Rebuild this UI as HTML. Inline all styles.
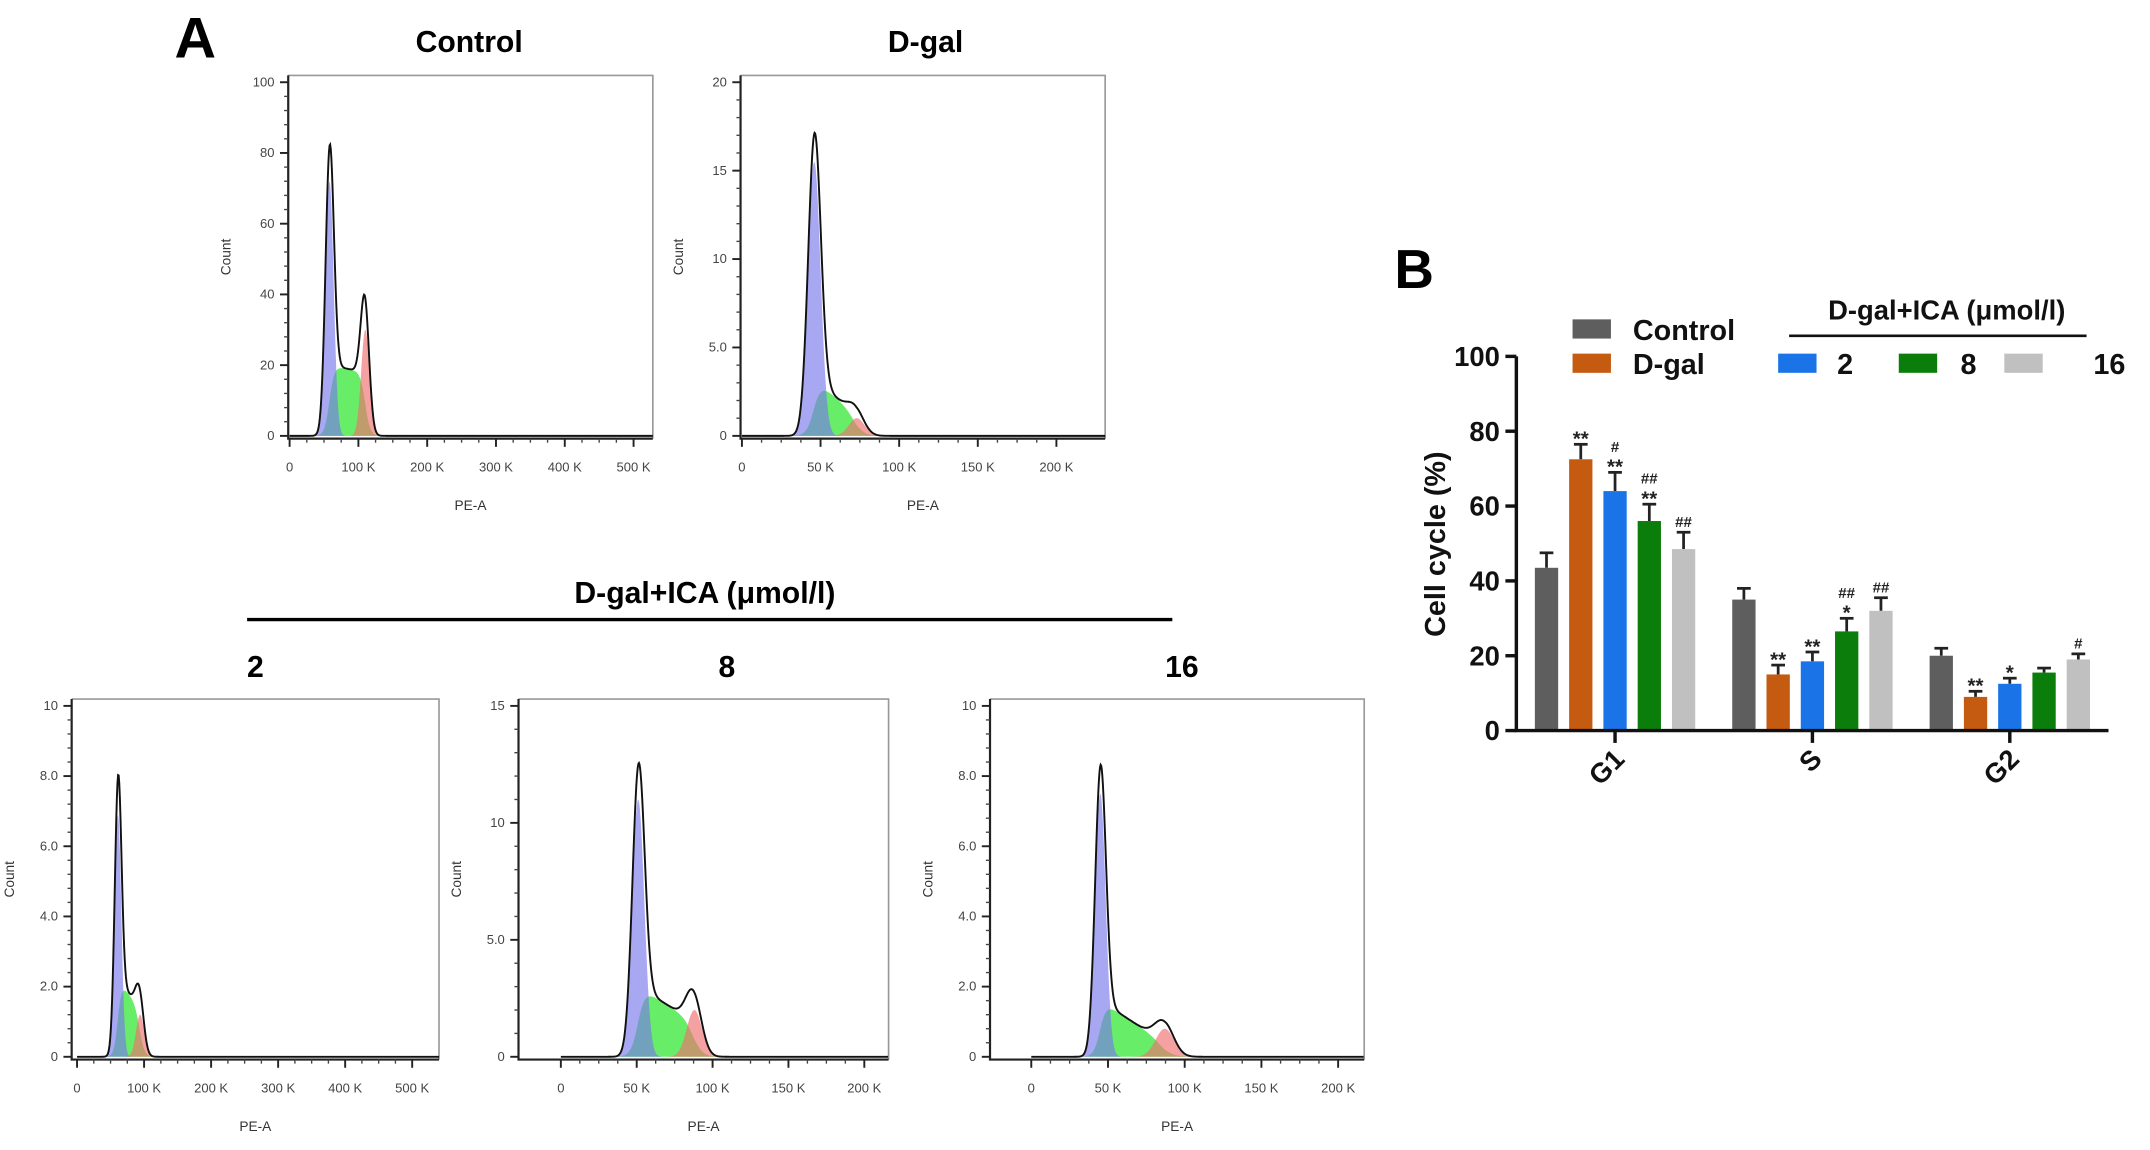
<!DOCTYPE html>
<html><head><meta charset="utf-8"><style>
html,body{margin:0;padding:0;background:#fff}
svg{display:block}
text{font-family:"Liberation Sans",Arial,sans-serif}
</style></head><body>
<svg id="fig" width="2150" height="1150" viewBox="0 0 1568 839" xmlns="http://www.w3.org/2000/svg">
<text x="127" y="42" font-size="42" font-weight="bold">A</text>
<text x="1017" y="210" font-size="40" font-weight="bold">B</text>
<text x="342" y="38" font-size="22" font-weight="bold" text-anchor="middle">Control</text>
<text x="675" y="38" font-size="22" font-weight="bold" text-anchor="middle">D-gal</text>
<text x="514" y="440" font-size="22" font-weight="bold" text-anchor="middle">D-gal+ICA (μmol/l)</text>
<line x1="180" y1="452" x2="855" y2="452" stroke="#000" stroke-width="2.5"/>
<text x="186" y="494" font-size="22" font-weight="bold" text-anchor="middle">2</text>
<text x="530" y="494" font-size="22" font-weight="bold" text-anchor="middle">8</text>
<text x="862" y="494" font-size="22" font-weight="bold" text-anchor="middle">16</text>
<g id="hists"></g>
<g id="bars"></g>
</svg>
<script>
// ---------- Histogram data ----------
const histNames = ['control','dgal','ica2','ica8','ica16'];
const histXMin = [0, 0, -6, -27, -26];
const histXMax = [528, 231, 540, 216, 217];
const histYMax = [100, 20, 10, 15, 10];
const histYTicks = [[0,20,40,60,80,100],[0,5,10,15,20],[0,2,4,6,8,10],[0,5,10,15],[0,2,4,6,8,10]];
const histYTickLabels = [['0','20','40','60','80','100'],['0','5.0','10','15','20'],['0','2.0','4.0','6.0','8.0','10'],['0','5.0','10','15'],['0','2.0','4.0','6.0','8.0','10']];
const histXTicks = [[0,100,200,300,400,500],[0,50,100,150,200],[0,100,200,300,400,500],[0,50,100,150,200],[0,50,100,150,200]];
const histXTickLabels = [['0','100 K','200 K','300 K','400 K','500 K'],['0','50 K','100 K','150 K','200 K'],['0','100 K','200 K','300 K','400 K','500 K'],['0','50 K','100 K','150 K','200 K'],['0','50 K','100 K','150 K','200 K']];
// G1 peak: mean (K), height, sd
const g1Mean = [58, 46, 61, 51, 45];
const g1Height = [72, 15.5, 6.9, 11, 7.5];
const g1Sd = [6, 4, 5, 4, 3.5];
// S phase plateau level (start, end)
const sStart = [20, 3.2, 2.2, 3.0, 1.6];
const sEnd = [18, 1.2, 1.4, 1.5, 0.4];
// G2 peak
const g2Mean = [110, 73, 94, 88, 87];
const g2Height = [30, 1.0, 1.2, 2.0, 0.8];
const g2Sd = [6, 5, 6, 5, 6];
// frame rectangles (layout)
const frames = [[210,55,476,320],[540,55,806,320],[52,510,320,773],[378,510,648,773],[722,510,995,773]];

function gauss(x,m,h,s){return h*Math.exp(-0.5*((x-m)/s)**2);}
function sig(x){return 1/(1+Math.exp(-x));}
const NS='http://www.w3.org/2000/svg';
function mk(tag,attrs,parent){const e=document.createElementNS(NS,tag);for(const k in attrs)e.setAttribute(k,attrs[k]);parent.appendChild(e);return e;}
const hg=document.getElementById('hists');
histNames.forEach((nm,i)=>{
  const [L,T,R,B]=frames[i];
  const x0=L+1, x1=R;
  const xmin=histXMin[i], xmax=histXMax[i];
  const sx=v=>x0+((v-xmin)/(xmax-xmin))*(x1-x0);
  const sy=v=>B-2-(v/histYMax[i])*(B-2-T-5);
  const g=mk('g',{},hg);
  
  
  const fr=mk('path',{d:`M${L},${T} H${R} V${B}`,fill:'none',stroke:'#999','stroke-width':1.2},g);
  
  
  const ax=mk('path',{d:`M${L},${T} V${B} H${R}`,fill:'none',stroke:'#222','stroke-width':1.6},g);
  
  
  const comp={g1:[],s:[],g2:[],tot:[]};
  const m1=g1Mean[i], m2=g2Mean[i];
  const st=(xmax-Math.max(0,xmin))/600;
  for(let v=Math.max(0,xmin); v<=xmax; v+=st){
    const a=gauss(v,m1,g1Height[i],g1Sd[i]);
    const lvl=sStart[i]+(sEnd[i]-sStart[i])*Math.min(1,Math.max(0,(v-m1)/(m2-m1)));
    const s=lvl*sig((v-m1)/(g1Sd[i]*0.6))*sig((m2-v)/(g2Sd[i]*0.6));
    const b=gauss(v,m2,g2Height[i],g2Sd[i]);
    comp.g1.push([v,a]);comp.s.push([v,s]);comp.g2.push([v,b]);comp.tot.push([v,a+s+b]);
  }
  const vs=Math.max(0,xmin);
  const area=(arr,fill,name)=>{
    let d=`M${sx(vs)},${sy(0)}`;arr.forEach(p=>d+=` L${sx(p[0]).toFixed(2)},${sy(p[1]).toFixed(2)}`);d+=` L${sx(xmax)},${sy(0)} Z`;
    const p=mk('path',{d,fill,stroke:'none'},g);
    
    
  };
  area(comp.s,'rgba(40,230,40,0.7)',nm+'-s-phase');
  area(comp.g1,'rgba(120,120,235,0.65)',nm+'-g1-peak');
  area(comp.g2,'rgba(240,110,110,0.65)',nm+'-g2-peak');
  let d='';comp.tot.forEach((p,k)=>d+=(k?' L':'M')+sx(p[0]).toFixed(2)+','+sy(p[1]).toFixed(2));
  const tl=mk('path',{d,fill:'none',stroke:'#111','stroke-width':1.4},g);
  
  
  histYTicks[i].forEach((t,k)=>{
    const y=sy(t);
    mk('line',{x1:L-6,y1:y,x2:L,y2:y,stroke:'#222','stroke-width':1.4},g);
    const tx=mk('text',{x:L-10,y:y+3,'font-size':9.5,'text-anchor':'end',fill:'#444'},g);
    tx.textContent=histYTickLabels[i][k];
    
    
    if(k<histYTicks[i].length-1){const step=(histYTicks[i][k+1]-t)/5;for(let m=1;m<5;m++){const yy=sy(t+step*m);mk('line',{x1:L-3,y1:yy,x2:L,y2:yy,stroke:'#444','stroke-width':1},g);}}
  });
  histXTicks[i].forEach((t,k)=>{
    const x=sx(t);
    mk('line',{x1:x,y1:B,x2:x,y2:B+6,stroke:'#222','stroke-width':1.4},g);
    const tx=mk('text',{x:x,y:B+24,'font-size':9.5,'text-anchor':'middle',fill:'#444'},g);
    tx.textContent=histXTickLabels[i][k];
    
    
    if(k<histXTicks[i].length-1){const step=(histXTicks[i][k+1]-t)/4;for(let m=1;m<4;m++){const xx=sx(t+step*m);mk('line',{x1:xx,y1:B,x2:xx,y2:B+3,stroke:'#444','stroke-width':1},g);}}
  });
  const yl=mk('text',{x:0,y:0,'font-size':10,'text-anchor':'middle',fill:'#333',transform:`translate(${L-42},${(T+B)/2}) rotate(-90)`},g);
  yl.textContent='Count';
  
  
  const xl=mk('text',{x:(L+R)/2,y:B+52,'font-size':10,'text-anchor':'middle',fill:'#333'},g);
  xl.textContent='PE-A';
  
  
});

// ---------- Bar chart data ----------
const phases = ['G1','S','G2'];
const seriesNames = ['Control','D-gal','2','8','16'];
const valControl = [43.5, 35, 20];
const valDgal = [72.5, 15, 9];
const valIca2 = [64, 18.5, 12.5];
const valIca8 = [56, 26.5, 15.5];
const valIca16 = [48.5, 32, 19];
const errControl = [4, 3, 2];
const errDgal = [4, 2.5, 1.5];
const errIca2 = [5, 2.5, 1.5];
const errIca8 = [4.5, 3.5, 1.2];
const errIca16 = [4.5, 3.5, 1.5];
const sigControl = ['', '', ''];
const sigDgal = ['**', '**', '**'];
const sigIca2 = ['#\n**', '**', '*'];
const sigIca8 = ['##\n**', '##\n*', ''];
const sigIca16 = ['##', '##', '#'];
const yTicks = [0,20,40,60,80,100];
const colors = ['#5e5e5e','#c55a11','#1a74e8','#0b7d0b','#c0c0c0'];

const vals=[valControl,valDgal,valIca2,valIca8,valIca16];
const errs=[errControl,errDgal,errIca2,errIca8,errIca16];
const sigs=[sigControl,sigDgal,sigIca2,sigIca8,sigIca16];
const bg=document.getElementById('bars');
const AX=1106, Y0=533, Y100=260, XR=1538;
const by=v=>Y0-(v/100)*(Y0-Y100);
const groupW=(XR-AX)/phases.length;
const bx=(gi,si)=>AX+groupW*(gi+0.5)+(si-2)*25;
const BW=17;
vals.forEach((arr,si)=>arr.forEach((v,gi)=>{
  const x=bx(gi,si), e=errs[si][gi];
  const top=by(v+e);
  const el=mk('line',{x1:x,y1:by(v),x2:x,y2:top,stroke:'#222','stroke-width':2},bg);
  
  
  mk('line',{x1:x-5,y1:top,x2:x+5,y2:top,stroke:'#222','stroke-width':2},bg);
  const r=mk('rect',{x:x-BW/2,y:by(v),width:BW,height:Y0-by(v),fill:colors[si]},bg);
  
  
  const lines=sigs[si][gi].split('\n').filter(s=>s);
  lines.reverse().forEach((s,k)=>{
    const t=mk('text',{x:x,y:top-4-k*11+(s.indexOf('*')>=0?5:0),'font-size':s.indexOf('*')>=0?15:11,'font-weight':'bold','text-anchor':'middle',fill:'#222'},bg);
    t.textContent=s;
    
    
  });
}));
const yax=mk('path',{d:`M${AX},${Y100} V${Y0} H${XR}`,fill:'none',stroke:'#111','stroke-width':2.5},bg);


yTicks.forEach(t=>{
  mk('line',{x1:AX-8,y1:by(t),x2:AX,y2:by(t),stroke:'#111','stroke-width':2.5},bg);
  const tx=mk('text',{x:AX-12,y:by(t)+7,'font-size':20,'font-weight':'bold','text-anchor':'end',fill:'#111'},bg);
  tx.textContent=String(t);
  
  
});
phases.forEach((p,gi)=>{
  const x=bx(gi,2);
  mk('line',{x1:x,y1:Y0,x2:x,y2:Y0+9,stroke:'#111','stroke-width':2.5},bg);
  const tx=mk('text',{x:0,y:0,'font-size':20,'font-weight':'bold','text-anchor':'end',fill:'#111',transform:`translate(${x+8},${Y0+22}) rotate(-45)`},bg);
  tx.textContent=p;
  
  
});
const ylab=mk('text',{x:0,y:0,'font-size':21,'font-weight':'bold','text-anchor':'middle',fill:'#111',transform:`translate(1054,397) rotate(-90)`},bg);
ylab.textContent='Cell cycle (%)';


const legPos=[[1147,233,1191,'Control'],[1147,258,1191,'D-gal'],[1297,258,1340,'2'],[1385,258,1430,'8'],[1462,258,1527,'16']];
legPos.forEach((p,si)=>{
  const r=mk('rect',{x:p[0],y:p[1],width:28,height:14,fill:colors[si]},bg);
  
  
  const t=mk('text',{x:p[2],y:p[1]+15,'font-size':21,'font-weight':'bold',fill:'#111'},bg);
  t.textContent=seriesNames[si];
  
  
});
const lt=mk('text',{x:1420,y:233,'font-size':20,'font-weight':'bold','text-anchor':'middle',fill:'#111'},bg);
lt.textContent='D-gal+ICA (μmol/l)';


const ll=mk('line',{x1:1305,y1:245,x2:1522,y2:245,stroke:'#111','stroke-width':2},bg);


</script>
</body></html>
